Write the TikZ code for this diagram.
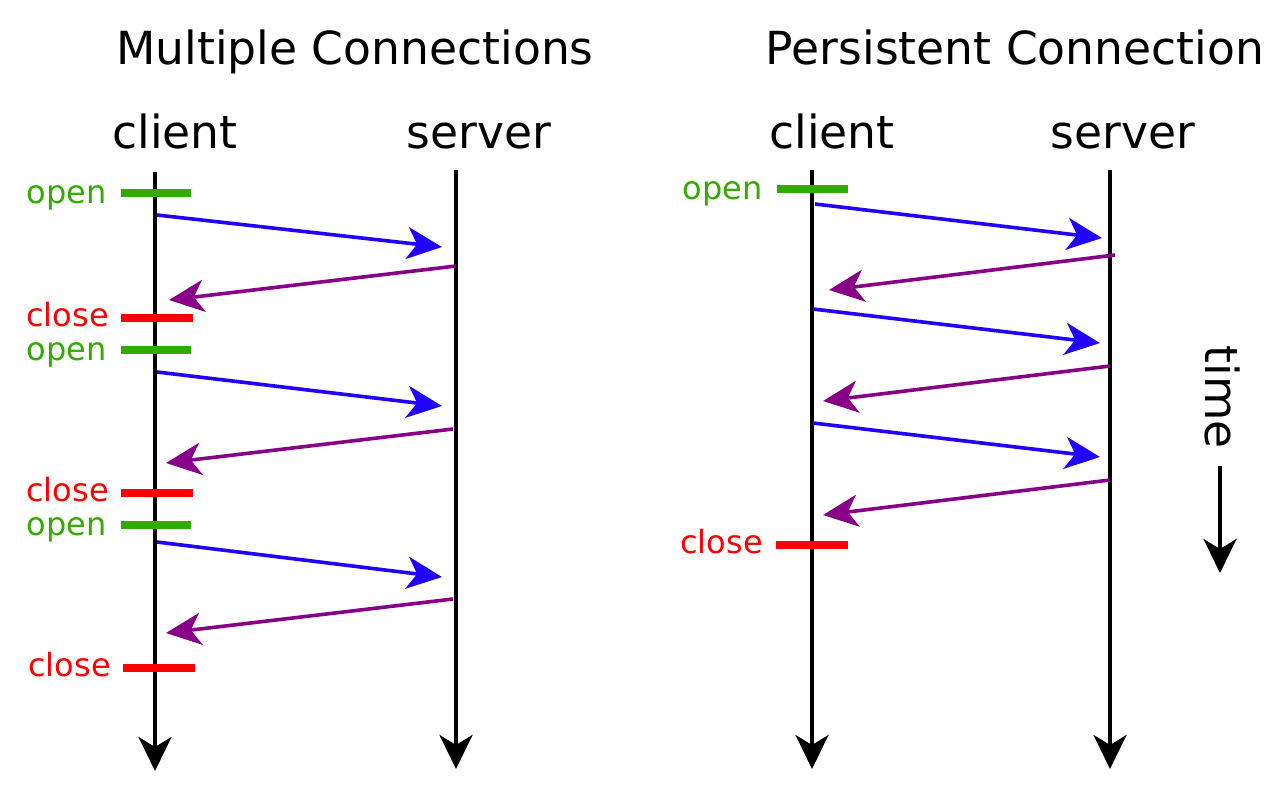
\documentclass[tikz,border=0pt]{standalone}
\usepackage{fontspec}
\setmainfont{DejaVu Sans}
\usetikzlibrary{arrows.meta}
\definecolor{msgblue}{RGB}{34,0,255}
\definecolor{msgpurple}{RGB}{136,0,136}
\definecolor{opengreen}{RGB}{51,170,0}
\definecolor{closered}{RGB}{255,0,0}
\begin{document}
\begin{tikzpicture}[x=1pt,y=-1pt,
  bigtext/.style={font=\fontsize{45.6}{55}\selectfont, inner sep=0pt},
  smalltext/.style={font=\fontsize{32}{38}\selectfont, inner sep=0pt, anchor=base east},
  timeline/.style={line width=4pt, -{Stealth[length=34pt,width=33pt,inset=10pt]}},
  req/.style={msgblue, line width=3.6pt, -{Stealth[length=35pt,width=32pt,inset=10pt]}},
  resp/.style={msgpurple, line width=3.6pt, -{Stealth[length=35pt,width=32pt,inset=10pt]}},
  opentick/.style={opengreen, line width=7.5pt},
  closetick/.style={closered, line width=7.5pt}]
\useasboundingbox (0,0) rectangle (1280,796);
% titles
\node[bigtext, anchor=base] (t1) at (355,64) {Multiple Connections};
\node[bigtext, anchor=base] (t2) at (1015,64) {Persistent Connection};
\node[bigtext, anchor=base] (lc) at (175,148) {client};
\node[bigtext, anchor=base] (ls) at (479,148) {server};
\node[bigtext, anchor=base] (rc) at (832,148) {client};
\node[bigtext, anchor=base] (rs) at (1123,148) {server};
% timelines
\coordinate (lct) at (155,172); \coordinate (lcb) at (155,771);
\coordinate (lst) at (456,170); \coordinate (lsb) at (456,769);
\coordinate (rct) at (812,170); \coordinate (rcb) at (812,769);
\coordinate (rst) at (1110,170); \coordinate (rsb) at (1110,769);
\draw[timeline] (lct) -- (lcb);
\draw[timeline] (lst) -- (lsb);
\draw[timeline] (rct) -- (rcb);
\draw[timeline] (rst) -- (rsb);
% left ticks
\coordinate (o1a) at (121,193); \coordinate (o1b) at (191,193);
\coordinate (c1a) at (121,318); \coordinate (c1b) at (193,318);
\coordinate (o2a) at (121,350); \coordinate (o2b) at (191,350);
\coordinate (c2a) at (121,493); \coordinate (c2b) at (193,493);
\coordinate (o3a) at (121,525); \coordinate (o3b) at (191,525);
\coordinate (c3a) at (123,668); \coordinate (c3b) at (195,668);
\draw[opentick] (o1a) -- (o1b);
\draw[closetick] (c1a) -- (c1b);
\draw[opentick] (o2a) -- (o2b);
\draw[closetick] (c2a) -- (c2b);
\draw[opentick] (o3a) -- (o3b);
\draw[closetick] (c3a) -- (c3b);
\node[smalltext, opengreen] (ol1) at (107,203) {open};
\node[smalltext, closered] (cl1) at (109,326) {close};
\node[smalltext, opengreen] (ol2) at (107,360) {open};
\node[smalltext, closered] (cl2) at (109,501) {close};
\node[smalltext, opengreen] (ol3) at (107,535) {open};
\node[smalltext, closered] (cl3) at (111,676) {close};
% left messages
\coordinate (a1) at (157,215); \coordinate (b1) at (442,247);
\coordinate (a2) at (456,266); \coordinate (b2) at (169,300);
\coordinate (a3) at (157,372); \coordinate (b3) at (442,406);
\coordinate (a4) at (453,429); \coordinate (b4) at (166,463);
\coordinate (a5) at (157,542); \coordinate (b5) at (442,577);
\coordinate (a6) at (453,599); \coordinate (b6) at (166,633);
\draw[req] (a1) -- (b1);
\draw[resp] (a2) -- (b2);
\draw[req] (a3) -- (b3);
\draw[resp] (a4) -- (b4);
\draw[req] (a5) -- (b5);
\draw[resp] (a6) -- (b6);
% right ticks
\coordinate (ro1a) at (777,189); \coordinate (ro1b) at (848,189);
\coordinate (rc1a) at (776,545); \coordinate (rc1b) at (848,545);
\draw[opentick] (ro1a) -- (ro1b);
\draw[closetick] (rc1a) -- (rc1b);
\node[smalltext, opengreen] (rol1) at (763,199) {open};
\node[smalltext, closered] (rcl1) at (763,553) {close};
% right messages
\coordinate (ra1) at (815,204); \coordinate (rb1) at (1102,238);
\coordinate (ra2) at (1115,255); \coordinate (rb2) at (829,290);
\coordinate (ra3) at (813,309); \coordinate (rb3) at (1100,343);
\coordinate (ra4) at (1110,366); \coordinate (rb4) at (823,401);
\coordinate (ra5) at (813,423); \coordinate (rb5) at (1100,457);
\coordinate (ra6) at (1110,480); \coordinate (rb6) at (823,515);
\draw[req] (ra1) -- (rb1);
\draw[resp] (ra2) -- (rb2);
\draw[req] (ra3) -- (rb3);
\draw[resp] (ra4) -- (rb4);
\draw[req] (ra5) -- (rb5);
\draw[resp] (ra6) -- (rb6);
% time
\node[bigtext, rotate=-90] (time) at (1222,397) {time};
\coordinate (tt) at (1220,466); \coordinate (tb) at (1220,573);
\draw[timeline] (tt) -- (tb);
\end{tikzpicture}
\end{document}
